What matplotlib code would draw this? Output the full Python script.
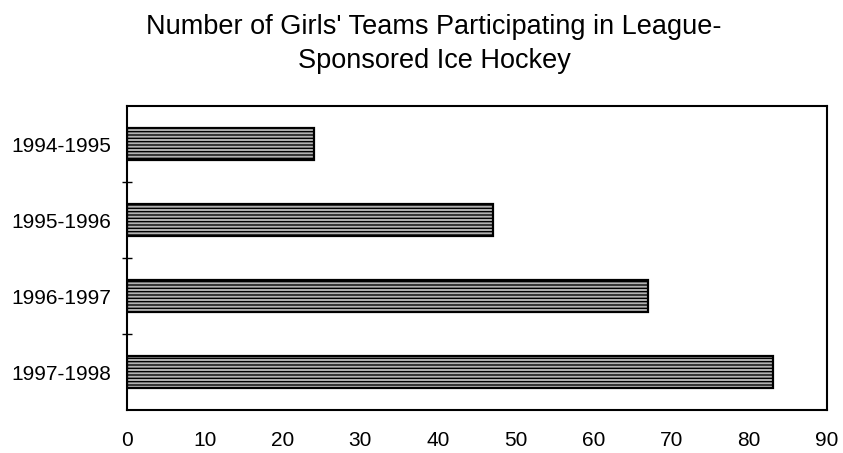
import matplotlib
matplotlib.use("Agg")
import matplotlib.pyplot as plt
import numpy as np

plt.rcParams['font.family'] = ['Liberation Sans', 'DejaVu Sans']
plt.rcParams['hatch.color'] = '#e0e0e0'
plt.rcParams['hatch.linewidth'] = 1.0

seasons = ["1994-1995", "1995-1996", "1996-1997", "1997-1998"]
teams = [24, 47, 67, 83]
xticks = [0, 10, 20, 30, 40, 50, 60, 70, 80, 90]
title = "Number of Girls' Teams Participating in League-\nSponsored Ice Hockey"

fig = plt.figure(figsize=(8.43, 4.53), dpi=100)
ax = fig.add_axes([127/843, 1-410/453, 700/843, 304/453])

y = np.arange(len(seasons))
ax.barh(y, teams, height=0.42, color='#b2b2b2', edgecolor='black', linewidth=1.6,
        hatch='-----', zorder=2)
ax.set_ylim(len(seasons)-0.5, -0.5)
ax.set_xlim(0, 90)
ax.set_yticks(y)
ax.set_yticklabels(seasons, fontsize=15)
ax.set_yticks(np.arange(0.5, len(seasons)-0.5, 1), minor=True)
ax.tick_params(axis='y', which='major', length=0, pad=11)
ax.tick_params(axis='y', which='minor', length=7, direction='inout', width=1)
ax.set_xticks(xticks)
ax.set_xticklabels([str(v) for v in xticks], fontsize=15)
ax.tick_params(axis='x', length=0, pad=15)
for s in ax.spines.values():
    s.set_linewidth(1.5)
    s.set_color('black')

fig.text(434/843, 1-44/453, title, ha='center', va='center', fontsize=19.5,
         linespacing=1.42)

fig.savefig("out.png", dpi=100)
